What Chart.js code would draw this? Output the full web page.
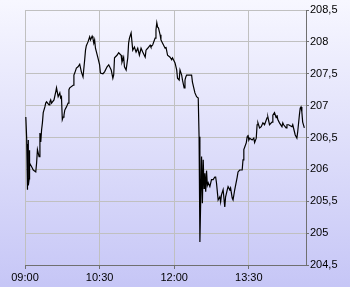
<!DOCTYPE html>
<html>
<head>
<meta charset="utf-8">
<script src="https://cdn.jsdelivr.net/npm/chart.js@4.4.1/dist/chart.umd.min.js"></script>
<style>
  html, body { margin: 0; padding: 0; }
  #wrap { width: 350px; height: 287px; }
</style>
</head>
<body>
<div id="wrap"><canvas id="priceChart" width="350" height="287"></canvas></div>
<script>
// intraday quotes
const times = [
  "09:01","09:02","09:03","09:03","09:03","09:04","09:04","09:05","09:05","09:06","09:08","09:10","09:13",
  "09:14","09:15","09:17","09:18","09:19","09:20","09:21","09:22","09:24","09:25",
  "09:26","09:29","09:30","09:31","09:32","09:35","09:37","09:38","09:40","09:42",
  "09:43","09:44","09:45","09:46","09:47","09:48","09:50","09:52","09:53","09:54",
  "09:58","09:59","10:00","10:02","10:04","10:06","10:08","10:10","10:12","10:13",
  "10:14","10:16","10:18","10:19","10:21","10:22","10:23","10:24","10:25","10:28",
  "10:30","10:31","10:34","10:36","10:39","10:41","10:44","10:46","10:47","10:48",
  "10:51","10:53","10:56","10:57","10:59","11:00","11:02","11:04","11:05","11:06",
  "11:08","11:10","11:12","11:14","11:16","11:18","11:20","11:22","11:25","11:26",
  "11:28","11:31","11:32","11:34","11:37","11:38","11:39","11:40","11:41","11:43",
  "11:44","11:46","11:49","11:50","11:52","11:55","11:57","11:58","12:01","12:03",
  "12:04","12:06","12:07","12:09","12:10","12:12","12:13","12:14","12:15","12:19",
  "12:21","12:22","12:25","12:27","12:29","12:30","12:31","12:33","12:34","12:35",
  "12:36","12:37","12:38","12:39","12:40","12:41","12:43","12:45","12:47","12:49",
  "12:50","12:51","12:53","12:54","12:55","12:56","12:57","12:59","13:01","13:02",
  "13:04","13:05","13:07","13:08","13:10","13:11","13:13","13:16","13:17","13:19",
  "13:22","13:23","13:24","13:27","13:28","13:29","13:30","13:31","13:34","13:36",
  "13:37","13:39","13:40","13:41","13:43","13:45","13:47","13:49","13:52","13:53",
  "13:55","13:58","13:59","14:01","14:03","14:04","14:05","14:07","14:10","14:11",
  "14:12","14:15","14:16","14:18","14:22","14:23","14:26","14:28","14:29","14:31",
  "14:32","14:33","14:34","14:35","14:37"
];
const prices = [
  206.82,206.49,205.68,206.40,205.80,206.46,205.75,205.85,206.30,206.10,206.04,205.99,205.96,
  206.10,206.31,206.20,206.57,206.43,206.62,206.73,206.89,206.98,207.04,
  207.06,207.01,207.06,207.09,207.04,207.09,207.21,207.28,207.14,207.20,
  207.12,207.14,206.78,206.82,206.85,206.93,206.98,207.04,207.25,207.28,
  207.32,207.48,207.51,207.59,207.61,207.65,207.53,207.45,207.72,207.87,
  207.94,208.00,208.08,208.03,208.09,208.05,207.98,208.03,207.90,207.75,
  207.64,207.51,207.50,207.53,207.61,207.64,207.56,207.43,207.48,207.75,
  207.79,207.83,207.79,207.68,207.76,207.61,207.56,207.75,207.98,208.06,
  208.14,207.87,207.92,207.84,207.90,207.79,207.90,207.84,207.76,207.87,
  207.90,207.95,207.92,207.95,208.06,208.19,208.30,208.23,208.22,208.11,
  208.03,207.98,207.90,207.92,207.79,207.76,207.72,207.75,207.67,207.56,
  207.43,207.40,207.56,207.48,207.40,207.28,207.40,207.45,207.48,207.48,
  207.48,207.37,207.20,207.14,207.12,206.51,204.86,206.20,205.47,206.15,
  205.70,205.94,205.65,205.98,205.75,205.79,205.73,205.84,205.84,205.88,
  205.88,205.79,205.52,205.52,205.57,205.49,205.60,205.68,205.41,205.57,
  205.68,205.73,205.68,205.71,205.55,205.52,205.68,205.88,205.96,205.99,
  205.99,206.15,206.31,206.42,206.51,206.54,206.46,206.49,206.46,206.49,
  206.42,206.49,206.70,206.73,206.65,206.67,206.73,206.70,206.81,206.82,
  206.70,206.74,206.85,206.89,206.81,206.85,206.78,206.73,206.67,206.73,
  206.70,206.65,206.70,206.70,206.67,206.70,206.54,206.49,206.59,206.85,
  206.96,206.98,206.90,206.74,206.65
];
const xTickLabels = ["09:00", "10:30", "12:00", "13:30"];
const yTicks = [204.5, 205, 205.5, 206, 206.5, 207, 207.5, 208, 208.5];
const sessionStart = "09:00";
const sessionEnd = "14:39";

function toMinutes(t) {
  const p = t.split(":");
  return (+p[0]) * 60 + (+p[1]) - 9 * 60;
}

const points = times.map((t, i) => ({ x: toMinutes(t), y: prices[i] }));

const bgPlugin = {
  id: "bg",
  beforeDraw(chart) {
    const ctx = chart.ctx;
    const g = ctx.createLinearGradient(0, 0, 0, chart.height);
    g.addColorStop(0, "#f7f7ff");
    g.addColorStop(1, "#c6c6f6");
    ctx.save();
    ctx.fillStyle = g;
    ctx.fillRect(0, 0, chart.width, chart.height);
    ctx.restore();
  },
};

const tickFont = { family: "'Liberation Sans', Arial, sans-serif", size: 11 };

new Chart(document.getElementById("priceChart"), {
  type: "line",
  data: {
    datasets: [
      {
        data: points,
        borderColor: "#000",
        borderWidth: 1.2,
        pointRadius: 0,
        tension: 0,
        fill: false,
      },
    ],
  },
  options: {
    responsive: false,
    animation: false,
    parsing: false,
    layout: { padding: { left: 25, top: 10, right: 0, bottom: 0 } },
    plugins: {
      legend: { display: false },
      tooltip: { enabled: false },
    },
    scales: {
      x: {
        type: "linear",
        min: toMinutes(sessionStart),
        max: toMinutes(sessionEnd),
        afterBuildTicks: (scale) => {
          scale.ticks = xTickLabels.map((l) => ({ value: toMinutes(l) }));
        },
        afterFit: (scale) => { scale.height = 22; },
        grid: { color: "#c0c0c0", tickColor: "#707070", tickLength: 4 },
        border: { color: "#707070" },
        ticks: {
          color: "#000",
          font: tickFont,
          padding: 2,
          maxRotation: 0,
          autoSkip: false,
          callback: (v) => xTickLabels.find((l) => toMinutes(l) === v) || "",
        },
      },
      y: {
        position: "right",
        min: yTicks[0],
        max: yTicks[yTicks.length - 1],
        afterBuildTicks: (scale) => {
          scale.ticks = yTicks.map((v) => ({ value: v }));
        },
        afterFit: (scale) => { scale.width = 44; },
        grid: { color: "#c0c0c0", tickColor: "#707070", tickLength: 3 },
        border: { color: "#707070" },
        ticks: {
          color: "#000",
          font: tickFont,
          padding: 1,
          callback: (v) => String(v).replace(".", ","),
        },
      },
    },
  },
  plugins: [bgPlugin],
});
</script>
</body>
</html>
